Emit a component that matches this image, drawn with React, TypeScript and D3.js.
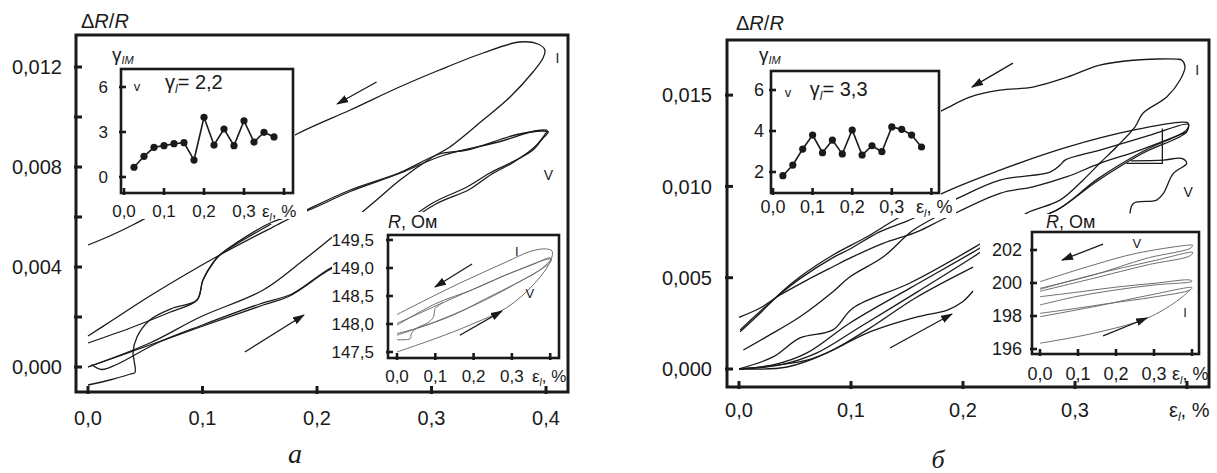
import React from "react";
import * as d3 from "d3";

type P = [number, number];

// ================= DATA =================
// shared
const epsTicks = [0, 0.1, 0.2, 0.3, 0.4];
const mainXLabelsA = ["0,0", "0,1", "0,2", "0,3", "0,4"];
const mainXLabelsB = ["0,0", "0,1", "0,2", "0,3", ""];
const insetXLabels = ["0,0", "0,1", "0,2", "0,3", ""];

// ---- panel a, main (x: eps_l %, y: dR/R)
const aYTicks = [0, 0.002, 0.004, 0.006, 0.008, 0.01, 0.012];
const aYLabels = ["0,000", "", "0,004", "", "0,008", "", "0,012"];
const aLoopI: P[] = [[0,0],[0.054,0.00096],[0.098,0.002],[0.153,0.00308],[0.185,0.00416],[0.207,0.00496],[0.252,0.00668],[0.2725,0.00748],[0.301,0.0084],[0.316,0.0088],[0.345,0.00988],[0.3686,0.0108],[0.3886,0.0118],[0.3974,0.01236],[0.399,0.01268],[0.393,0.01292],[0.377,0.013],[0.345,0.01256],[0.307,0.01188],[0.272,0.0112],[0.229,0.01028],[0.1825,0.00932],[0.111,0.00748],[0.039,0.00568],[0.019,0.00524],[0,0.00488]];
const aLoopV1: P[] = [[0,0],[0.054,0.00088],[0.098,0.0016],[0.153,0.00248],[0.176,0.00284],[0.209,0.00388],[0.255,0.00508],[0.301,0.00656],[0.331,0.0072],[0.351,0.00776],[0.3686,0.00816],[0.3886,0.00868],[0.3974,0.00916],[0.402,0.0094],[0.3974,0.00944],[0.3747,0.0093],[0.331,0.00868],[0.307,0.00852],[0.2725,0.00778],[0.229,0.00708],[0.191,0.00628],[0.165,0.00568],[0.115,0.00448],[0.054,0.00284],[0.019,0.0018],[0,0.00124]];
const aLoopV2: P[] = [[0.003,0.0001],[0.012,-0.0001],[0.025,0.0001],[0.06,0.00095],[0.1,0.00168],[0.15,0.00252],[0.178,0.00292],[0.209,0.00384],[0.255,0.005],[0.303,0.0065],[0.333,0.0071],[0.352,0.0077],[0.372,0.0082],[0.39,0.0088],[0.399,0.0093],[0.401,0.00946],[0.39,0.00944],[0.36,0.00902],[0.31,0.00846],[0.272,0.00774],[0.229,0.00702],[0.19,0.00622],[0.16,0.00578],[0.13,0.00498],[0.115,0.00448],[0.109,0.00416],[0.1004,0.00348],[0.0952,0.00268],[0.072,0.0022],[0.037,0.00156],[0,0.00096]];
const aSCurve: P[] = [[0,-0.00072],[0.019,-0.00052],[0.037,-0.00028],[0.041,-0.00022],[0.0402,0.00028],[0.0393,0.00056],[0.0428,0.0012],[0.054,0.00188],[0.0742,0.00236],[0.0952,0.00268],[0.1004,0.00348],[0.1092,0.00416],[0.1153,0.00448],[0.16,0.00572]];
const aArrows: P[][] = [[[0.252,0.0114],[0.2175,0.01052]], [[0.137,0.0006],[0.1886,0.00208]]];
const aTags: [string, number, number][] = [["I",0.41,0.01236],["V",0.402,0.00768]];

// ---- panel a, inset 1 (gamma_IM vs eps)
const gammaEps = [0.025,0.05,0.075,0.1,0.125,0.15,0.175,0.2,0.225,0.25,0.275,0.3,0.325,0.35,0.375];
const aGamma = [0.65,1.38,1.98,2.09,2.22,2.29,1.13,3.98,2.13,3.2,2.09,3.75,2.33,2.98,2.67];
const aGYTicks = [0, 3, 6];
const aGYLabels = ["0", "3", "6"];
const aGammaL = "2,2";

// ---- panel a, inset 2 (R, Ohm vs eps)
const aRYTicks = [147.5, 148, 148.5, 149, 149.5];
const aRYLabels = ["147,5", "148,0", "148,5", "149,0", "149,5"];
const aR_I: P[] = [[0,147.5],[0.104,147.75],[0.19,147.98],[0.286,148.29],[0.356,148.7],[0.4,149.11],[0.405,149.3],[0.39,149.34],[0.35,149.3],[0.286,149.11],[0.146,148.67],[0,148.17]];
const aR_V1: P[] = [[0,147.83],[0.05,147.92],[0.147,148.16],[0.234,148.46],[0.321,148.76],[0.37,148.95],[0.4,149.14],[0.4,149.18],[0.35,149.05],[0.286,148.88],[0.146,148.46],[0,148.01]];
const aR_V2: P[] = [[0,147.8],[0.1,148.04],[0.2,148.33],[0.3,148.68],[0.4,149.1],[0.402,149.16],[0.3,148.92],[0.2,148.62],[0.1,148.36],[0,147.98]];
const aR_S: P[] = [[0,147.72],[0.035,147.74],[0.037,147.82],[0.05,147.92],[0.08,148.02],[0.095,148.12],[0.1,148.28],[0.12,148.38]];
const aRArrows: P[][] = [[[0.196,149.07],[0.099,148.66]], [[0.164,147.8],[0.274,148.23]]];
const aRTags: [string, number, number][] = [["I",0.313,149.29],["V",0.347,148.55]];

// ---- panel b, main
const bYTicks = [0, 0.005, 0.01, 0.015];
const bYLabels = ["0,000", "0,005", "0,010", "0,015"];
const bLoopI: P[] = [[0,0],[0.0304,0.00066],[0.0545,0.0017],[0.0839,0.00214],[0.1018,0.00334],[0.1527,0.00471],[0.209,0.00662],[0.235,0.0076],[0.2569,0.00854],[0.2866,0.00925],[0.3071,0.01034],[0.3223,0.01128],[0.3372,0.01217],[0.3536,0.01326],[0.3607,0.01401],[0.3819,0.0149],[0.3938,0.01583],[0.3982,0.01655],[0.3955,0.01691],[0.391,0.01697],[0.352,0.01691],[0.322,0.01664],[0.2929,0.01598],[0.2625,0.01544],[0.233,0.01527],[0.206,0.01489],[0.182,0.01418],[0.15,0.0133]];
const bLoopVa: P[] = [[0,0],[0.0304,0.00022],[0.0607,0.00088],[0.0991,0.00252],[0.1527,0.00443],[0.209,0.0064],[0.25,0.0079],[0.2837,0.0087],[0.32,0.0103],[0.36,0.0118],[0.3997,0.01299],[0.401,0.01346],[0.3964,0.01352],[0.3518,0.01308],[0.2929,0.01215],[0.233,0.01089],[0.182,0.00963],[0.14,0.0082],[0.1143,0.00724],[0.0839,0.00624],[0.0545,0.00505],[0.0366,0.00414],[0.0188,0.00305],[0.001,0.00204]];
const bLoopVb: P[] = [[0,0],[0.0366,0.00022],[0.0696,0.00088],[0.108,0.0023],[0.1589,0.00421],[0.209,0.00613],[0.25,0.0078],[0.2866,0.0088],[0.32,0.0104],[0.36,0.0119],[0.3997,0.0131],[0.401,0.0134],[0.367,0.01281],[0.3223,0.01199],[0.2911,0.01144],[0.2866,0.01116],[0.2777,0.01078],[0.233,0.01034],[0.19,0.0092],[0.15,0.0081],[0.125,0.0075],[0.1,0.0066],[0.0839,0.0061],[0.0545,0.00495],[0.0366,0.0041],[0.0188,0.00315],[0.001,0.00214]];
const bU1: P[] = [[0,0.00283],[0.0188,0.00334],[0.0366,0.00405],[0.0607,0.00487],[0.0839,0.0056],[0.1018,0.00615],[0.1286,0.00688],[0.1589,0.00751],[0.182,0.0082],[0.233,0.00962],[0.2625,0.00998],[0.2929,0.01053],[0.3223,0.01126],[0.358,0.01199],[0.4,0.01299]];
const bU4: P[] = [[0.0039,0.00104],[0.0247,0.00177],[0.0545,0.00286],[0.0839,0.00423],[0.0991,0.00505],[0.1289,0.00615],[0.1557,0.00761],[0.185,0.0086]];
const bLowest: P[] = [[0,0],[0.0607,0.00049],[0.0839,0.00104],[0.1143,0.00197],[0.159,0.00285],[0.186,0.00323],[0.2,0.0037],[0.209,0.00427]];
const bLow4: P[] = [[0,0],[0.0429,0.00011],[0.0786,0.00088],[0.1143,0.00214],[0.1589,0.00394],[0.209,0.00558]];
const bWiggly: P[] = [[0.3491,0.00852],[0.3521,0.00907],[0.3729,0.00925],[0.3789,0.00962],[0.3878,0.01071],[0.3997,0.01126],[0.3952,0.01153],[0.3789,0.01144],[0.35,0.0114]];
const bStep: P[] = [[0.378,0.01317],[0.378,0.01126],[0.346,0.01126]];
const bArrows: P[][] = [[[0.2446,0.01675],[0.208,0.01544]], [[0.1348,0.00115],[0.1902,0.00301]]];
const bTags: [string, number, number][] = [["I",0.409,0.01637],["V",0.401,0.00969]];

// ---- panel b, inset 1
const bGamma = [1.82,2.34,3.12,3.8,2.94,3.56,2.88,4.05,2.83,3.28,2.99,4.2,4.08,3.8,3.22];
const bGYTicks = [2, 4, 6];
const bGYLabels = ["2", "4", "6"];
const bGammaL = "3,3";

// ---- panel b, inset 2
const bRYTicks = [196, 198, 200, 202];
const bRYLabels = ["196", "198", "200", "202"];
const bR_V1: P[] = [[0,199.68],[0.14,200.48],[0.281,201.5],[0.395,202.1],[0.402,202.28],[0.395,202.3],[0.254,201.8],[0.14,201.09],[0,200.08]];
const bR_V2: P[] = [[0,199.5],[0.14,200.28],[0.281,201.09],[0.395,201.65],[0.402,201.85],[0.3,201.35],[0.14,200.5],[0,199.62]];
const bR_3: P[] = [[0,199.17],[0.1,199.45],[0.2,199.75],[0.3,199.98],[0.395,200.18],[0.4,200.1],[0.3,199.88],[0.2,199.58],[0.1,199.2],[0,198.67]];
const bR_4: P[] = [[0,198.16],[0.1,198.48],[0.184,198.77],[0.3,199.15],[0.395,199.58],[0.4,199.72],[0.3,199.32],[0.15,198.6],[0,197.96]];
const bR_I: P[] = [[0,196.35],[0.14,196.95],[0.281,197.86],[0.36,198.9],[0.395,199.58]];
const bRArrows: P[][] = [[[0.166,202.36],[0.058,201.39]], [[0.166,196.79],[0.282,197.88]]];
const bRTags: [string, number, number][] = [["V",0.255,202.42],["I",0.382,198.24]];

// ================= RENDER =================
const FONT = "'Liberation Sans', Arial, Helvetica, sans-serif";
const SERIF = "'Liberation Serif', 'Times New Roman', serif";
const INK = "#1a1a1a";

type S = d3.ScaleLinear<number, number>;

function curvePath(sx: S, sy: S, pts: P[]) {
  return d3.line<P>().x(d => sx(d[0])).y(d => sy(d[1])).curve(d3.curveCatmullRom.alpha(0.5))(pts) || "";
}
function straightPath(sx: S, sy: S, pts: P[]) {
  return d3.line<P>().x(d => sx(d[0])).y(d => sy(d[1]))(pts) || "";
}

function Eps({ x, y, fs }: { x: number; y: number; fs: number }) {
  return (
    <text x={x} y={y} fontSize={fs} fontFamily={FONT} fill={INK}>
      ε<tspan fontSize={fs * 0.6} fontStyle="italic" dy={fs * 0.22}>l</tspan>
      <tspan dy={-fs * 0.22}>, %</tspan>
    </text>
  );
}

function Axes(p: {
  sx: S; sy: S; yTicks: number[]; yLabels: string[]; xLabels: string[];
  fs: number; xBase: number; yRight: number; sw: number; tl: number; epsX?: number;
}) {
  const [l, r] = p.sx.range();
  const [b, t] = p.sy.range();
  return (
    <g>
      {epsTicks.map((v, i) => (
        <line key={"xt" + i} x1={p.sx(v)} x2={p.sx(v)} y1={b + 2} y2={b - p.tl} stroke={INK} strokeWidth={p.sw} />
      ))}
      {p.yTicks.map((v, i) => (
        <line key={"yt" + i} x1={l - 2} x2={l + p.tl} y1={p.sy(v)} y2={p.sy(v)} stroke={INK} strokeWidth={p.sw} />
      ))}
      <rect x={l} y={t} width={r - l} height={b - t} fill="none" stroke={INK} strokeWidth={p.sw} />
      {p.xLabels.map((s, i) => s ? (
        <text key={"xl" + i} x={p.sx(epsTicks[i])} y={p.xBase} textAnchor="middle" fontSize={p.fs} fontFamily={FONT} fill={INK}>{s}</text>
      ) : null)}
      {p.yLabels.map((s, i) => s ? (
        <text key={"yl" + i} x={p.yRight} y={p.sy(p.yTicks[i]) + p.fs * 0.36} textAnchor="end" fontSize={p.fs} fontFamily={FONT} fill={INK}>{s}</text>
      ) : null)}
      {p.epsX !== undefined ? <Eps x={p.epsX} y={p.xBase} fs={p.fs} /> : null}
    </g>
  );
}

function GammaInset(p: { sx: S; sy: S; vals: number[]; yTicks: number[]; yLabels: string[]; fs: number; xBase: number; yRight: number; epsX: number; gl: string; vPos: P; glPos: P; labelX: number; labelY: number; }) {
  const pts: P[] = gammaEps.map((e, i) => [e, p.vals[i]]);
  return (
    <g>
      <path d={straightPath(p.sx, p.sy, pts)} fill="none" stroke={INK} strokeWidth={1.6} />
      {pts.map((d, i) => <circle key={i} cx={p.sx(d[0])} cy={p.sy(d[1])} r={3.6} fill={INK} />)}
      <Axes sx={p.sx} sy={p.sy} yTicks={p.yTicks} yLabels={p.yLabels} xLabels={insetXLabels} fs={p.fs} xBase={p.xBase} yRight={p.yRight} sw={2.6} tl={5} epsX={p.epsX} />
      <text x={p.sx(p.vPos[0])} y={p.sy(p.vPos[1])} fontSize={13} fontFamily={FONT} fill={INK} textAnchor="middle" dominantBaseline="central">v</text>
      <text x={p.sx(p.glPos[0])} y={p.sy(p.glPos[1])} fontSize={20} fontFamily={FONT} fill={INK}>
        γ<tspan fontSize={12} fontStyle="italic" dy={4}>l</tspan><tspan dy={-4}>{"= " + p.gl}</tspan>
      </text>
      <text x={p.labelX} y={p.labelY} fontSize={19} fontFamily={FONT} fill={INK}>
        γ<tspan fontSize={11} fontStyle="italic" dy={3}>IM</tspan>
      </text>
    </g>
  );
}

function Arrow({ sx, sy, pts }: { sx: S; sy: S; pts: P[] }) {
  return <path d={straightPath(sx, sy, pts)} stroke={INK} strokeWidth={1.3} fill="none" markerEnd="url(#ah)" />;
}

function Tags({ sx, sy, tags, fs }: { sx: S; sy: S; tags: [string, number, number][]; fs: number }) {
  return (
    <g>
      {tags.map((t, i) => (
        <text key={i} x={sx(t[1])} y={sy(t[2])} fontSize={fs} fontFamily={FONT} fill={INK} textAnchor="middle" dominantBaseline="central">{t[0]}</text>
      ))}
    </g>
  );
}

export default function App() {
  // panel a scales
  const aX = d3.scaleLinear().domain([-0.01048, 0.4192]).range([76, 568]);
  const aY = d3.scaleLinear().domain([-0.001, 0.01328]).range([392, 35]);
  const a1X = d3.scaleLinear().domain([-0.0075, 0.4225]).range([121, 293]);
  const a1Y = d3.scaleLinear().domain([-1.067, 7.2]).range([193, 69]);
  const a2X = d3.scaleLinear().domain([-0.0235, 0.423]).range([388, 559]);
  const a2Y = d3.scaleLinear().domain([147.393, 149.589]).range([358, 235]);
  // panel b scales
  const bX = d3.scaleLinear().domain([-0.01071, 0.41964]).range([727, 1209]);
  const bY = d3.scaleLinear().domain([-0.000986, 0.018018]).range([387, 40]);
  const b1X = d3.scaleLinear().domain([-0.00505, 0.4192]).range([771, 939]);
  const b1Y = d3.scaleLinear().domain([0.976, 6.927]).range([193, 71]);
  const b2X = d3.scaleLinear().domain([-0.02105, 0.4184]).range([1032, 1199]);
  const b2Y = d3.scaleLinear().domain([195.697, 203.091]).range([354, 232]);

  const mainStroke = { fill: "none", stroke: INK, strokeWidth: 1.3, strokeLinejoin: "round" as const };
  const insetStroke = { fill: "none", stroke: "#6e6e6e", strokeWidth: 1.0, strokeLinejoin: "round" as const };

  return (
    <div style={{ position: "absolute", left: 0, top: 0 }}>
      <svg width={1217} height={473} style={{ display: "block", background: "#fff" }}>
        <defs>
          <marker id="ah" viewBox="0 0 12 8" refX={11} refY={4} markerWidth={12} markerHeight={8} markerUnits="userSpaceOnUse" orient="auto">
            <path d="M0,0 L12,4 L0,8 z" fill={INK} />
          </marker>
        </defs>
        <rect x={0} y={0} width={1217} height={473} fill="#fff" />

        {/* ===== Panel a ===== */}
        <g>
          {[aLoopI, aLoopV1, aLoopV2, aSCurve].map((c, i) => (
            <path key={i} d={curvePath(aX, aY, c)} {...mainStroke} />
          ))}
          {aArrows.map((a, i) => <Arrow key={i} sx={aX} sy={aY} pts={a} />)}
          <Tags sx={aX} sy={aY} tags={aTags} fs={14} />

          {/* inset 1 background */}
          <rect x={92} y={44} width={203} height={152} fill="#fff" />
          <rect x={92} y={196} width={215} height={23} fill="#fff" />
          <GammaInset sx={a1X} sy={a1Y} vals={aGamma} yTicks={aGYTicks} yLabels={aGYLabels} fs={17} xBase={217} yRight={108} epsX={262} gl={aGammaL} vPos={[0.0325, 6.0]} glPos={[0.1025, 5.87]} labelX={112} labelY={61} />

          {/* inset 2 */}
          <rect x={332} y={212} width={230} height={174} fill="#fff" />
          {[aR_I, aR_V1, aR_V2, aR_S].map((c, i) => (
            <path key={i} d={curvePath(a2X, a2Y, c)} {...insetStroke} />
          ))}
          {aRArrows.map((a, i) => <Arrow key={i} sx={a2X} sy={a2Y} pts={a} />)}
          <Tags sx={a2X} sy={a2Y} tags={aRTags} fs={13} />
          <Axes sx={a2X} sy={a2Y} yTicks={aRYTicks} yLabels={aRYLabels} xLabels={insetXLabels} fs={17} xBase={382} yRight={374} sw={2.6} tl={5} epsX={532} />
          <text x={388} y={228} fontSize={18} fontFamily={FONT} fill={INK}>
            <tspan fontStyle="italic">R</tspan>, Ом
          </text>

          <Axes sx={aX} sy={aY} yTicks={aYTicks} yLabels={aYLabels} xLabels={mainXLabelsA} fs={20} xBase={425} yRight={62} sw={3} tl={6} />
          <text x={81} y={28} fontSize={20} fontFamily={FONT} fill={INK}>
            Δ<tspan fontStyle="italic">R</tspan>/<tspan fontStyle="italic">R</tspan>
          </text>
          <text x={295} y={463} fontSize={28} fontFamily={SERIF} fontStyle="italic" fill={INK} textAnchor="middle">a</text>
        </g>

        {/* ===== Panel b ===== */}
        <g>
          {[bLoopI, bLoopVa, bLoopVb, bU1, bU4, bLowest, bLow4, bWiggly].map((c, i) => (
            <path key={i} d={curvePath(bX, bY, c)} {...mainStroke} />
          ))}
          <path d={straightPath(bX, bY, bStep)} {...mainStroke} />
          {bArrows.map((a, i) => <Arrow key={i} sx={bX} sy={bY} pts={a} />)}
          <Tags sx={bX} sy={bY} tags={bTags} fs={14} />

          {/* inset 1 */}
          <rect x={745} y={45} width={196} height={151} fill="#fff" />
          <rect x={745} y={196} width={211} height={22} fill="#fff" />
          <GammaInset sx={b1X} sy={b1Y} vals={bGamma} yTicks={bGYTicks} yLabels={bGYLabels} fs={18} xBase={213} yRight={764} epsX={916} gl={bGammaL} vPos={[0.038, 5.9]} glPos={[0.093, 5.7]} labelX={759} labelY={61} />

          {/* inset 2 */}
          <rect x={980} y={214} width={225} height={170} fill="#fff" />
          {[bR_V1, bR_V2, bR_3, bR_4, bR_I].map((c, i) => (
            <path key={i} d={curvePath(b2X, b2Y, c)} {...insetStroke} />
          ))}
          {bRArrows.map((a, i) => <Arrow key={i} sx={b2X} sy={b2Y} pts={a} />)}
          <Tags sx={b2X} sy={b2Y} tags={bRTags} fs={13} />
          <Axes sx={b2X} sy={b2Y} yTicks={bRYTicks} yLabels={bRYLabels} xLabels={insetXLabels} fs={18} xBase={380} yRight={1022} sw={2.6} tl={5} epsX={1172} />
          <text x={1046} y={228} fontSize={18} fontFamily={FONT} fill={INK}>
            <tspan fontStyle="italic">R</tspan>, Ом
          </text>

          <Axes sx={bX} sy={bY} yTicks={bYTicks} yLabels={bYLabels} xLabels={mainXLabelsB} fs={20} xBase={417} yRight={712} sw={3} tl={6} epsX={1169} />
          <text x={736} y={30} fontSize={20} fontFamily={FONT} fill={INK}>
            Δ<tspan fontStyle="italic">R</tspan>/<tspan fontStyle="italic">R</tspan>
          </text>
          <text x={938} y={468} fontSize={26} fontFamily={SERIF} fontStyle="italic" fill={INK} textAnchor="middle">б</text>
        </g>
      </svg>
    </div>
  );
}
